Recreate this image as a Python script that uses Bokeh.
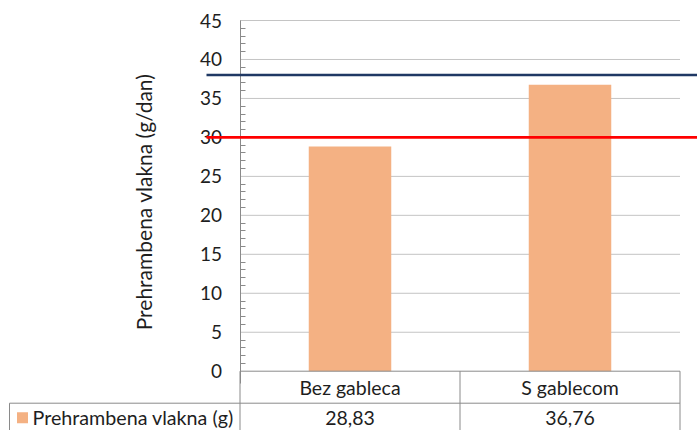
from bokeh.plotting import figure
from bokeh.models import Range1d, LinearAxis, FixedTicker, ColumnDataSource
from bokeh.core.properties import value
from bokeh.embed import file_html
from bokeh.resources import INLINE

# ---- data -------------------------------------------------------------
categories = ["Bez gableca", "S gablecom"]
values = [28.83, 36.76]
series_name = "Prehrambena vlakna (g)"
y_title = "Prehrambena vlakna (g/dan)"
ref_levels = [38, 30]
ref_colors = ["#1F3864", "#FF0000"]
y_ticks = list(range(0, 50, 5))
y_minor = [v for v in range(1, 45) if v % 5]

# ---- layout constants (pixels) -----------------------------------------
W, H = 697, 430
X0, SX = 239.5, 220.0      # px of x=0, px per category
Y0, SY = 370.7, 7.793      # px of y=0, px per unit
ROW = 32.0 / SY            # table row height in y units
FONT = value("Lato")
TXT = "#1E1E1E"
LINE = "#8A8A8A"

def xs(px):
    return (px - X0) / SX

xr = Range1d(xs(0), xs(W))
yr = Range1d(-(H - Y0) / SY, Y0 / SY)

p = figure(width=W, height=H, x_range=xr, y_range=yr,
           output_backend="svg", toolbar_location=None,
           x_axis_type=None, y_axis_type=None, min_border=0,
           outline_line_color=None, background_fill_color="white",
           border_fill_color="white")

n = len(categories)
centers = [i + 0.5 for i in range(n)]

# gridlines
grid_y = [t for t in y_ticks if t > 0]
p.segment(x0=[0] * len(grid_y), x1=[n] * len(grid_y), y0=grid_y, y1=grid_y,
          line_color="#C4C4C4", line_width=1)

# bars
src = ColumnDataSource(dict(x=centers, top=values, cat=categories))
p.vbar(x="x", top="top", bottom=0, width=0.375, source=src,
       fill_color="#F4B183", line_color=None)

# data table lines
bottom = yr.start
left_cell = xs(9)
p.segment(x0=[0, left_cell], x1=[n, n], y0=[0, -ROW], y1=[0, -ROW],
          line_color=LINE, line_width=1)
vx = [float(i) for i in range(n + 1)]
p.segment(x0=vx, x1=vx, y0=[0] * len(vx), y1=[bottom] * len(vx),
          line_color=LINE, line_width=1)
p.segment(x0=[left_cell], x1=[left_cell], y0=[-ROW], y1=[bottom],
          line_color=LINE, line_width=1)

# table texts
p.text(x=centers, y=[-ROW / 2] * n, text=categories, text_font=FONT,
       text_font_size="19.5px", text_color=TXT, text_align="center",
       text_baseline="middle")
labels = [f"{v:.2f}".replace(".", ",") for v in values]
row2_y = -(ROW + 14.5 / SY)
p.text(x=centers, y=[row2_y] * n, text=labels, text_font=FONT,
       text_font_size="19.5px", text_color=TXT, text_align="center",
       text_baseline="middle")
p.scatter(x=[xs(22)], y=[row2_y], marker="square", size=11,
          fill_color="#F4B183", line_color=None)
p.text(x=[xs(32)], y=[row2_y], text=[series_name], text_font=FONT,
       text_font_size="19.7px", text_color=TXT, text_align="left",
       text_baseline="middle")

# reference lines
for lvl, col in zip(ref_levels, ref_colors):
    p.segment(x0=[xs(206)], x1=[xr.end], y0=[lvl], y1=[lvl],
              line_color=col, line_width=2.6, level="overlay")

# y axis inside the frame at x=0
yaxis = LinearAxis(fixed_location=0, bounds=(-1.6, 45),
                   ticker=FixedTicker(ticks=y_ticks, minor_ticks=y_minor),
                   axis_label=y_title)
yaxis.axis_line_color = LINE
yaxis.major_tick_in = 0
yaxis.major_tick_out = 0
yaxis.minor_tick_in = 5
yaxis.minor_tick_out = 0
yaxis.minor_tick_line_color = LINE
yaxis.major_label_standoff = 18
yaxis.major_label_text_font = "Lato"
yaxis.major_label_text_font_size = "19px"
yaxis.major_label_text_color = TXT
yaxis.axis_label_text_font = "Lato"
yaxis.axis_label_text_font_size = "21px"
yaxis.axis_label_text_font_style = "normal"
yaxis.axis_label_text_color = TXT
yaxis.axis_label_standoff = 41
p.add_layout(yaxis, "left")

open("out.html", "w").write(file_html(p, INLINE))
